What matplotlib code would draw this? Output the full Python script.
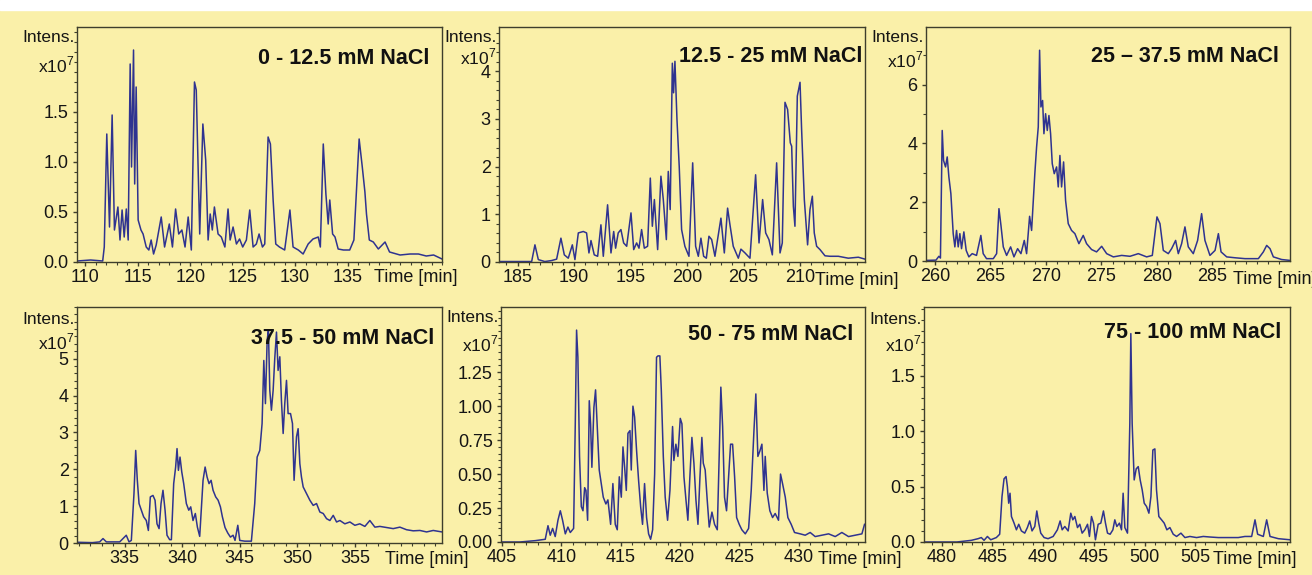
import matplotlib
matplotlib.use('Agg')
import matplotlib.pyplot as plt
import matplotlib.ticker as mticker

plt.rcParams['font.family'] = ['Liberation Sans', 'DejaVu Sans']
plt.rcParams['mathtext.fontset'] = 'custom'
plt.rcParams['mathtext.rm'] = 'Liberation Sans'

# --- DATA (intensity in units of 1e7, time in min) ---
t_a = [109.2, 110.5, 111.65, 111.8, 112.04, 112.3, 112.55, 112.77, 113.1, 113.3, 113.5, 113.7, 113.9, 114.08,
       114.27, 114.4, 114.59, 114.7, 114.84, 115.03, 115.3, 115.5, 115.8, 116.05, 116.27, 116.5, 116.75,
       117.23, 117.55, 118.0, 118.3, 118.6, 118.9, 119.2, 119.5, 119.8, 120.1, 120.4, 120.57, 120.9, 121.2,
       121.47, 121.7, 121.9, 122.1, 122.3, 122.65, 122.96, 123.3, 123.6, 123.8, 124.08, 124.4, 124.7, 125.0,
       125.35, 125.67, 125.99, 126.3, 126.56, 126.88, 127.1, 127.42, 127.64, 127.9, 128.15, 128.5, 129.0,
       129.5, 129.8, 130.3, 130.76, 131.24, 131.7, 132.2, 132.4, 132.68, 132.93, 133.15, 133.3, 133.57, 133.8,
       134.1, 134.6, 135.2, 135.6, 136.1, 136.4, 136.65, 136.8, 137.07, 137.45, 137.93, 138.57, 139.0, 140.0,
       140.95, 141.75, 142.5, 143.2, 144.0]
i_a = [0.01, 0.02, 0.01, 0.15, 1.28, 0.35, 1.47, 0.32, 0.55, 0.22, 0.52, 0.25, 0.53, 0.22,
       1.98, 0.95, 2.12, 0.78, 1.75, 0.42, 0.32, 0.28, 0.15, 0.12, 0.22, 0.08, 0.17,
       0.45, 0.15, 0.38, 0.15, 0.53, 0.28, 0.32, 0.15, 0.45, 0.12, 1.80, 1.72, 0.28, 1.38,
       1.02, 0.22, 0.48, 0.32, 0.55, 0.28, 0.25, 0.15, 0.53, 0.22, 0.35, 0.18, 0.23, 0.15,
       0.22, 0.52, 0.15, 0.18, 0.28, 0.15, 0.18, 1.25, 1.18, 0.62, 0.18, 0.15, 0.12,
       0.52, 0.15, 0.12, 0.08, 0.18, 0.23, 0.25, 0.15, 1.18, 0.68, 0.38, 0.62, 0.28, 0.25,
       0.13, 0.12, 0.12, 0.22, 1.23, 0.95, 0.70, 0.48, 0.22, 0.20, 0.13, 0.20, 0.10, 0.07,
       0.08, 0.08, 0.06, 0.07, 0.03]

t_b = [183.35, 185.0, 186.24, 186.53, 186.83, 187.4, 188.0, 188.45, 188.83, 189.13, 189.48, 189.84, 190.07,
       190.37, 190.81, 191.1, 191.31, 191.49, 191.78, 192.08, 192.37, 192.58, 192.96, 193.26, 193.5, 193.67,
       193.9, 194.14, 194.38, 194.65, 195.03, 195.27, 195.53, 195.74, 195.97, 196.21, 196.5, 196.74, 196.92,
       197.1, 197.39, 197.68, 197.89, 198.16, 198.33, 198.5, 198.69, 198.8, 198.92, 199.1, 199.3, 199.51,
       199.8, 200.16, 200.49, 200.75, 200.99, 201.22, 201.46, 201.7, 201.93, 202.17, 202.46, 202.99, 203.29,
       203.58, 203.79, 204.08, 204.53, 204.76, 205.12, 205.56, 206.06, 206.36, 206.68, 206.95, 207.24,
       207.54, 207.92, 208.22, 208.42, 208.66, 208.89, 209.13, 209.25, 209.4, 209.54, 209.75, 209.99,
       210.13, 210.37, 210.66, 210.87, 211.08, 211.25, 211.46, 211.76, 212.2, 212.64, 213.38, 214.26,
       215.15, 215.74]
i_b = [0.01, 0.01, 0.01, 0.36, 0.05, 0.01, 0.03, 0.06, 0.50, 0.15, 0.08, 0.36, 0.05,
       0.61, 0.64, 0.61, 0.19, 0.45, 0.15, 0.12, 0.78, 0.12, 1.20, 0.19, 0.64, 0.29,
       0.61, 0.68, 0.40, 0.33, 1.03, 0.26, 0.40, 0.29, 0.68, 0.29, 0.33, 1.76, 0.75,
       1.31, 0.26, 1.80, 1.31, 0.47, 1.90, 1.10, 4.17, 3.55, 4.21, 2.99, 2.00, 0.68,
       0.33, 0.12, 2.08, 0.33, 0.12, 0.50, 0.12, 0.08, 0.54, 0.47, 0.12, 0.92, 0.19,
       1.13, 0.78, 0.33, 0.08, 0.27, 0.19, 0.08, 1.83, 0.40, 1.31, 0.61, 0.47,
       0.15, 2.08, 0.19, 0.40, 3.35, 3.20, 2.50, 2.43, 1.17, 0.75, 3.48, 3.77,
       2.78, 1.31, 0.36, 1.10, 1.38, 0.61, 0.33, 0.26, 0.13, 0.12, 0.12, 0.08,
       0.10, 0.06]

t_c = [259.2, 260.1, 260.36, 260.5, 260.66, 260.78, 260.96, 261.11, 261.26, 261.44, 261.65, 261.8, 261.95,
       262.1, 262.25, 262.4, 262.61, 262.82, 263.06, 263.36, 263.75, 264.14, 264.35, 264.65, 265.26, 265.56,
       265.77, 265.95, 266.16, 266.46, 266.82, 267.12, 267.45, 267.75, 268.05, 268.26, 268.53, 268.71, 269.0,
       269.16, 269.31, 269.43, 269.55, 269.7, 269.82, 269.97, 270.12, 270.27, 270.42, 270.57, 270.75, 270.96,
       271.11, 271.26, 271.41, 271.59, 271.77, 272.01, 272.31, 272.61, 272.97, 273.36, 273.66, 274.11,
       274.56, 275.02, 275.47, 276.07, 276.82, 277.57, 278.32, 279.07, 279.58, 280.0, 280.27, 280.57,
       281.02, 281.32, 281.68, 281.92, 282.22, 282.52, 282.82, 283.27, 283.66, 284.02, 284.32, 284.77,
       285.23, 285.53, 285.77, 286.28, 287.03, 287.93, 289.13, 289.58, 289.88, 290.18, 290.48, 291.23,
       291.98]
i_c = [0.02, 0.03, 0.16, 0.10, 4.44, 3.42, 3.20, 3.54, 2.86, 2.29, 0.93, 0.48, 1.04,
       0.48, 0.93, 0.42, 0.99, 0.36, 0.14, 0.25, 0.19, 0.87, 0.25, 0.08, 0.08, 0.25,
       1.78, 1.21, 0.48, 0.19, 0.48, 0.14, 0.42, 0.25, 0.70, 0.25, 1.52, 1.04, 2.97,
       3.88, 4.56, 7.17, 5.24, 5.46, 4.33, 5.01, 4.44, 4.95, 4.33, 3.31, 2.97, 3.20,
       2.52, 3.59, 2.52, 3.37, 2.06, 1.27, 1.04, 0.93, 0.59, 0.87, 0.59, 0.39,
       0.31, 0.50, 0.25, 0.14, 0.19, 0.16, 0.25, 0.14, 0.19, 1.50, 1.27, 0.36,
       0.25, 0.42, 0.70, 0.25, 0.59, 1.16, 0.48, 0.25, 0.70, 1.61, 0.70, 0.19,
       0.36, 0.93, 0.31, 0.14, 0.11, 0.08, 0.08, 0.31, 0.53, 0.42, 0.14, 0.05,
       0.02]

t_d = [330.86, 332.2, 332.83, 333.12, 333.41, 334.57, 335.14, 335.38, 335.58, 335.81, 335.96, 336.1, 336.25,
       336.45, 336.65, 336.88, 337.06, 337.23, 337.46, 337.64, 337.81, 337.99, 338.16, 338.33, 338.51,
       338.68, 338.91, 339.06, 339.26, 339.43, 339.55, 339.67, 339.81, 339.96, 340.13, 340.36, 340.57,
       340.74, 340.94, 341.14, 341.32, 341.52, 341.81, 341.99, 342.16, 342.33, 342.51, 342.68, 342.91,
       343.12, 343.32, 343.49, 343.72, 343.96, 344.19, 344.42, 344.59, 344.83, 345.0, 345.43, 346.01,
       346.3, 346.51, 346.74, 346.94, 347.09, 347.23, 347.38, 347.49, 347.61, 347.75, 347.9, 348.04,
       348.19, 348.33, 348.48, 348.62, 348.77, 348.91, 349.06, 349.2, 349.41, 349.58, 349.72, 349.93,
       350.07, 350.22, 350.36, 350.51, 350.8, 351.09, 351.38, 351.67, 351.96, 352.25, 352.54, 352.83,
       353.12, 353.41, 353.7, 354.13, 354.57, 355.0, 355.43, 355.87, 356.3, 356.74, 357.17, 357.75,
       358.33, 358.91, 359.49, 360.07, 360.65, 361.23, 361.81, 362.57]
i_d = [0.02, 0.01, 0.03, 0.12, 0.03, 0.03, 0.21, 0.03, 0.07, 1.34, 2.51, 1.70, 1.07,
       0.89, 0.71, 0.61, 0.34, 1.25, 1.29, 1.16, 0.52, 0.39, 1.07, 1.43, 0.89,
       0.21, 0.09, 0.09, 1.61, 2.06, 2.56, 1.97, 2.33, 1.93, 1.61, 1.07, 0.89,
       0.98, 0.61, 0.80, 0.43, 0.18, 1.70, 2.06, 1.79, 1.61, 1.70, 1.43, 1.25,
       1.16, 0.98, 0.71, 0.42, 0.27, 0.16, 0.21, 0.07, 0.48, 0.07, 0.05, 0.05,
       1.07, 2.33, 2.51, 3.24, 4.95, 3.78, 5.50, 5.77, 4.14, 3.60, 4.14, 5.00,
       5.72, 4.68, 5.05, 3.87, 2.97, 3.78, 4.41, 3.51, 3.51, 3.24, 1.70, 2.88,
       3.10, 2.15, 1.79, 1.52, 1.34, 1.16, 1.02, 1.07, 0.84, 0.80, 0.66, 0.61,
       0.75, 0.57, 0.61, 0.52, 0.57, 0.48, 0.52, 0.45, 0.61, 0.43, 0.45, 0.42,
       0.39, 0.43, 0.36, 0.33, 0.34, 0.30, 0.34, 0.30]

t_e = [404.92, 406.5, 407.81, 408.65, 408.88, 409.07, 409.27, 409.49, 409.72, 409.92, 410.11, 410.34, 410.56,
       410.76, 411.04, 411.18, 411.29, 411.4, 411.54, 411.69, 411.83, 411.97, 412.08, 412.22, 412.36,
       412.47, 412.58, 412.75, 412.89, 413.06, 413.2, 413.37, 413.54, 413.76, 413.93, 414.16, 414.35,
       414.55, 414.72, 414.89, 415.06, 415.2, 415.34, 415.48, 415.62, 415.79, 415.9, 416.04, 416.18,
       416.35, 416.52, 416.69, 416.85, 417.02, 417.19, 417.36, 417.53, 417.7, 417.87, 418.03, 418.15,
       418.31, 418.43, 418.6, 418.76, 418.96, 419.16, 419.38, 419.49, 419.66, 419.83, 420.03, 420.17,
       420.34, 420.51, 420.67, 420.84, 421.01, 421.18, 421.35, 421.52, 421.69, 421.85, 421.97, 422.13,
       422.3, 422.47, 422.7, 422.92, 423.15, 423.31, 423.45, 423.6, 423.76, 423.93, 424.1, 424.27,
       424.44, 424.61, 424.78, 425.0, 425.22, 425.51, 425.79, 426.01, 426.24, 426.4, 426.57, 426.74,
       426.91, 427.08, 427.19, 427.36, 427.58, 427.81, 428.03, 428.31, 428.48, 428.65, 428.88, 429.1,
       429.38, 429.66, 430.14, 430.56, 430.98, 431.4, 431.97, 432.53, 433.09, 433.65, 434.21, 434.78,
       435.34, 435.56]
i_e = [0.0, 0.0, 0.01, 0.02, 0.12, 0.05, 0.10, 0.04, 0.16, 0.23, 0.16, 0.06, 0.11,
       0.07, 0.10, 0.87, 1.56, 1.36, 0.63, 0.26, 0.23, 0.40, 0.38, 0.16, 1.04,
       0.87, 0.55, 0.99, 1.12, 0.80, 0.53, 0.43, 0.33, 0.28, 0.31, 0.13, 0.43,
       0.13, 0.09, 0.48, 0.33, 0.70, 0.55, 0.38, 0.80, 0.82, 0.53, 1.00, 0.92,
       0.67, 0.45, 0.26, 0.13, 0.43, 0.18, 0.06, 0.02, 0.09, 0.50, 1.36, 1.37,
       1.37, 1.12, 0.63, 0.33, 0.16, 0.38, 0.85, 0.60, 0.72, 0.63, 0.91, 0.87,
       0.48, 0.31, 0.16, 0.48, 0.77, 0.58, 0.31, 0.13, 0.48, 0.77, 0.58, 0.53,
       0.31, 0.11, 0.22, 0.13, 0.09, 0.63, 1.14, 0.85, 0.33, 0.23, 0.48, 0.72,
       0.72, 0.48, 0.18, 0.13, 0.09, 0.06, 0.10, 0.38, 0.82, 1.09, 0.63, 0.67,
       0.72, 0.38, 0.63, 0.36, 0.23, 0.18, 0.21, 0.16, 0.50, 0.43, 0.33, 0.18,
       0.13, 0.07, 0.06, 0.05, 0.07, 0.04, 0.05, 0.06, 0.04, 0.07, 0.04, 0.05,
       0.06, 0.13]

t_f = [478.26, 481.5, 482.93, 483.59, 483.91, 484.18, 484.51, 484.84, 485.39, 485.72, 485.95, 486.15, 486.35,
       486.48, 486.61, 486.74, 486.88, 487.14, 487.37, 487.6, 487.86, 488.19, 488.45, 488.68, 488.91,
       489.18, 489.38, 489.57, 489.77, 490.1, 490.49, 490.99, 491.41, 491.68, 491.88, 492.14, 492.47,
       492.73, 492.93, 493.13, 493.39, 493.62, 493.85, 494.11, 494.38, 494.57, 494.77, 494.97, 495.16,
       495.43, 495.69, 495.95, 496.15, 496.35, 496.61, 496.88, 497.07, 497.27, 497.53, 497.73, 497.89,
       498.06, 498.32, 498.55, 498.65, 498.78, 498.98, 499.18, 499.38, 499.57, 499.77, 499.97, 500.2,
       500.43, 500.63, 500.82, 501.02, 501.18, 501.41, 501.68, 501.94, 502.2, 502.5, 502.83, 503.16,
       503.59, 503.98, 504.47, 505.13, 505.79, 506.45, 507.27, 508.26, 509.24, 509.9, 510.56, 510.89,
       511.15, 511.71, 512.04, 512.37, 513.19, 514.34]
i_f = [0.0, 0.0, 0.015, 0.03, 0.04, 0.015, 0.05, 0.02, 0.04, 0.07, 0.41, 0.57, 0.59,
       0.50, 0.35, 0.44, 0.23, 0.17, 0.11, 0.16, 0.10, 0.08, 0.13, 0.19, 0.10,
       0.14, 0.28, 0.17, 0.08, 0.04, 0.03, 0.05, 0.11, 0.19, 0.11, 0.14, 0.10,
       0.26, 0.20, 0.23, 0.13, 0.16, 0.08, 0.11, 0.16, 0.05, 0.23, 0.17, 0.02,
       0.16, 0.17, 0.28, 0.17, 0.08, 0.07, 0.11, 0.20, 0.14, 0.17, 0.11, 0.44,
       0.13, 0.08, 1.07, 1.88, 1.07, 0.56, 0.66, 0.68, 0.56, 0.47, 0.35, 0.32,
       0.26, 0.41, 0.83, 0.84, 0.47, 0.23, 0.20, 0.17, 0.11, 0.13, 0.07, 0.05,
       0.08, 0.04, 0.05, 0.04, 0.05, 0.045, 0.04, 0.04, 0.04, 0.05, 0.05, 0.20,
       0.07, 0.05, 0.20, 0.05, 0.03, 0.02]

titles = ['0 - 12.5 mM NaCl', '12.5 - 25 mM NaCl', '25 \u2013 37.5 mM NaCl',
          '37.5 - 50 mM NaCl', '50 - 75 mM NaCl', '75 - 100 mM NaCl']
x_ticks = [[110, 115, 120, 125, 130, 135], [185, 190, 195, 200, 205, 210], [260, 265, 270, 275, 280, 285],
           [335, 340, 345, 350, 355], [405, 410, 415, 420, 425, 430], [480, 485, 490, 495, 500, 505]]
y_ticks = [[0.0, 0.5, 1.0, 1.5], [0, 1, 2, 3, 4], [0, 2, 4, 6], [0, 1, 2, 3, 4, 5],
           [0.0, 0.25, 0.5, 0.75, 1.0, 1.25], [0.0, 0.5, 1.0, 1.5]]
y_fmt = ['%.1f', '%d', '%d', '%d', '%.2f', '%.1f']
x_lims = [(109.2, 144.0), (183.35, 215.74), (259.2, 291.98), (330.86, 362.57), (404.92, 435.6), (478.26, 514.34)]
y_lims = [2.35, 4.93, 7.96, 6.4, 1.73, 2.12]
series = [(t_a, i_a), (t_b, i_b), (t_c, i_c), (t_d, i_d), (t_e, i_e), (t_f, i_f)]

# --- LAYOUT (pixels) ---
W, H = 1312, 575
BG = '#FAF0A9'
LINE = '#2F3390'
FRAME = '#3E3E2C'
TXT = '#151515'
boxes = [(77, 27, 442, 262), (499, 27, 865, 262), (926, 27, 1290, 261),
         (77, 307, 442, 543), (501, 307, 865, 542), (924, 307, 1290, 542)]
title_pos = [(429, 58), (862, 56), (1279, 56), (434, 338), (853, 334), (1281, 333)]
time_pos = [(374, 278), (815, 280), (1233, 279), (385, 559), (818, 560), (1213, 559)]
intens_y = [10, 10, 10, 12, 11, 12]
x10_y = [38, 30, 33, 35, 37, 37]
y_minor = [5, 5, 2, 5, 5, 5]

fig = plt.figure(figsize=(W / 100, H / 100), dpi=100, facecolor=BG)
fig.patches.append(plt.Rectangle((0, 1 - 10 / H), 1, 10 / H, transform=fig.transFigure,
                                 color='white', zorder=0))

def fx(px): return px / W
def fy(py): return 1 - py / H

for k in range(6):
    l, t, r, b = boxes[k]
    ax = fig.add_axes([fx(l), fy(b), (r - l) / W, (b - t) / H])
    ax.set_facecolor(BG)
    tt, ii = series[k]
    ax.plot(tt, ii, color=LINE, lw=1.1)
    ax.set_xlim(*x_lims[k]); ax.set_ylim(0, y_lims[k])
    ax.set_xticks(x_ticks[k]); ax.set_yticks(y_ticks[k])
    ax.yaxis.set_major_formatter(mticker.FormatStrFormatter(y_fmt[k]))
    ax.xaxis.set_minor_locator(mticker.MultipleLocator(1))
    step = y_ticks[k][1] - y_ticks[k][0]
    ax.yaxis.set_minor_locator(mticker.MultipleLocator(step / y_minor[k]))
    ax.tick_params(which='major', direction='out', length=3, width=1, color=FRAME,
                   labelsize=13, labelcolor=TXT)
    ax.tick_params(axis='y', which='major', pad=3)
    ax.tick_params(axis='x', which='major', pad=2)
    ax.tick_params(which='minor', direction='out', length=2, width=0.8, color=FRAME)
    for s in ax.spines.values():
        s.set_color(FRAME); s.set_linewidth(1.0)
    fig.text(fx(l - 2), fy(t + intens_y[k]), 'Intens.', ha='right', va='center', fontsize=12.5, color=TXT)
    fig.text(fx(l - 3), fy(t + x10_y[k]), 'x10$^7$', ha='right', va='center', fontsize=12.5, color=TXT)
    tx, ty = title_pos[k]
    fig.text(fx(tx), fy(ty), titles[k], ha='right', va='center', fontsize=15.5, fontweight='bold', color='#111111')
    px, py = time_pos[k]
    fig.text(fx(px), fy(py), 'Time [min]', ha='left', va='center', fontsize=13, color=TXT)

fig.savefig('out.png', dpi=100, facecolor=BG)
